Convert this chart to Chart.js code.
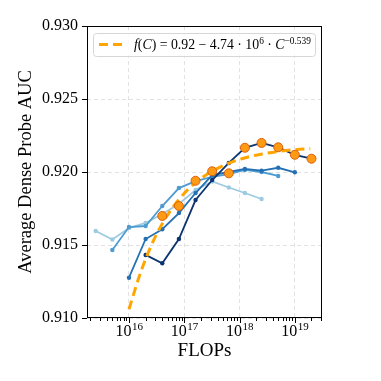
<!DOCTYPE html>
<html>
<head>
<meta charset="utf-8">
<script src="https://cdn.jsdelivr.net/npm/chart.js@4.4.1/dist/chart.umd.min.js"></script>
<style>
  body { margin: 0; background: #fff; }
  #wrap { width: 381px; height: 381px; }
</style>
</head>
<body>
<div id="wrap"><canvas id="chart" width="381" height="381"></canvas></div>
<script>
// compute (FLOPs) vs average dense probe AUC, one run per model size
const flops1 = [2.5e15, 5e15, 1e16, 2e16, 4e16, 8e16, 1.6e17, 3.2e17, 6.4e17, 1.25e18, 2.5e18];
const auc1   = [0.91596, 0.91538, 0.91616, 0.91651, 0.91712, 0.91781, 0.91877, 0.91935, 0.91894, 0.91856, 0.91815];
const flops2 = [5e15, 1e16, 2e16, 4e16, 8e16, 1.6e17, 3.2e17, 6.4e17, 1.25e18, 2.5e18, 5e18];
const auc2   = [0.91466, 0.91623, 0.91630, 0.91767, 0.91890, 0.91938, 0.91966, 0.91986, 0.92014, 0.92000, 0.91973];
const flops3 = [1e16, 2e16, 4e16, 8e16, 1.6e17, 3.2e17, 6.4e17, 1.25e18, 2.5e18, 5e18, 1e19];
const auc3   = [0.91276, 0.91541, 0.91608, 0.91719, 0.91856, 0.91979, 0.92000, 0.92021, 0.92009, 0.92029, 0.91998];
const flops4 = [2e16, 4e16, 8e16, 1.6e17, 3.2e17, 6.4e17, 1.25e18, 2.5e18, 5e18, 1e19, 2e19];
const auc4   = [0.91432, 0.91375, 0.91541, 0.91808, 0.91945, 0.92062, 0.92166, 0.92199, 0.92169, 0.92118, 0.92091];

// compute-optimal points
const optFlops = [4e16, 8e16, 1.6e17, 3.2e17, 6.4e17, 1.25e18, 2.5e18, 5e18, 1e19, 2e19];
const optAuc   = [0.91699, 0.91767, 0.91940, 0.92005, 0.91991, 0.92166, 0.92199, 0.92169, 0.92118, 0.92091];

// fitted power law
const fitFlops = [1e16, 1.5e16, 2e16, 3e16, 4e16, 6e16, 8e16, 1.2e17, 1.6e17, 2.5e17, 3.2e17, 6.4e17, 1.28e18, 2.56e18, 5.12e18, 1.02e19, 1.9e19];
const fitAuc   = [0.9106, 0.91274, 0.91404, 0.91557, 0.91646, 0.91751, 0.91812, 0.91885, 0.91927, 0.91981, 0.92006, 0.92060, 0.92098, 0.92123, 0.92141, 0.92153, 0.92160];

const xMajorTicks = [1e16, 1e17, 1e18, 1e19];
const yTicks = [0.910, 0.915, 0.920, 0.925, 0.930];

const SERIF = "'Liberation Serif', 'DejaVu Serif', serif";
const blues = ['#9ecae1', '#4e9bd0', '#2470b5', '#0c3470'];
const orange = '#ffa500';

function pts(xs, ys) {
  return xs.map((x, i) => ({ x: x, y: ys[i] }));
}

function runLine(xs, ys, color, order) {
  return {
    data: pts(xs, ys),
    borderColor: color,
    backgroundColor: color,
    borderWidth: 1.8,
    pointRadius: 2.2,
    pointBorderWidth: 0,
    pointHoverRadius: 0,
    tension: 0,
    order: order
  };
}

const extras = {
  id: 'extras',
  afterDraw(chart) {
    const ctx = chart.ctx;
    const a = chart.chartArea;
    const x = chart.scales.x;
    ctx.save();
    ctx.setLineDash([]);

    // frame
    ctx.strokeStyle = '#000';
    ctx.lineWidth = 1;
    ctx.strokeRect(Math.round(a.left) + 0.5, Math.round(a.top) + 0.5,
                   Math.round(a.right - a.left) - 1, Math.round(a.bottom - a.top) - 1);

    // log ticks, major and minor
    for (let e = 15; e <= 19; e++) {
      for (let m = 1; m <= 9; m++) {
        const v = m * Math.pow(10, e);
        if (v < x.min || v > x.max) continue;
        const px = Math.round(x.getPixelForValue(v)) + 0.5;
        ctx.beginPath();
        ctx.moveTo(px, a.bottom);
        ctx.lineTo(px, a.bottom + (m === 1 ? 5 : 3));
        ctx.stroke();
      }
    }

    // 10^n tick labels
    ctx.fillStyle = '#000';
    ctx.textBaseline = 'alphabetic';
    ctx.textAlign = 'left';
    xMajorTicks.forEach(v => {
      const px = x.getPixelForValue(v);
      const exp = String(Math.round(Math.log10(v)));
      ctx.font = '16px ' + SERIF;
      const w1 = ctx.measureText('10').width;
      ctx.font = '11px ' + SERIF;
      const w2 = ctx.measureText(exp).width;
      const left = px - (w1 + w2) / 2;
      ctx.font = '16px ' + SERIF;
      ctx.fillText('10', left, a.bottom + 18);
      ctx.font = '11px ' + SERIF;
      ctx.fillText(exp, left + w1 + 0.5, a.bottom + 12);
    });

    // legend box
    const bx = 93, by = 33, bw = 222, bh = 23;
    ctx.beginPath();
    ctx.roundRect(bx + 0.5, by + 0.5, bw, bh, 3);
    ctx.fillStyle = 'rgba(255,255,255,0.8)';
    ctx.fill();
    ctx.strokeStyle = '#d6d6d6';
    ctx.lineWidth = 1;
    ctx.stroke();

    ctx.beginPath();
    ctx.setLineDash([9, 5]);
    ctx.strokeStyle = orange;
    ctx.lineWidth = 3;
    ctx.moveTo(99, by + 11.5);
    ctx.lineTo(124, by + 11.5);
    ctx.stroke();
    ctx.setLineDash([]);

    const segs = [
      { t: 'f', it: true }, { t: '(' }, { t: 'C', it: true }, { t: ') = 0.92 \u2212 4.74 \u00b7 10' },
      { t: '6', sup: true }, { t: ' \u00b7 ' }, { t: 'C', it: true }, { t: '\u22120.539', sup: true }
    ];
    const fontFor = (s, size) => (s.it ? 'italic ' : '') + (s.sup ? size * 0.68 : size) + 'px ' + SERIF;
    let size = 14;
    let total = 0;
    segs.forEach(s => { ctx.font = fontFor(s, size); total += ctx.measureText(s.t).width; });
    size = size * 177 / total;
    let cx = 134;
    ctx.fillStyle = '#000';
    segs.forEach(s => {
      ctx.font = fontFor(s, size);
      ctx.fillText(s.t, cx, by + (s.sup ? 11 : 16));
      cx += ctx.measureText(s.t).width;
    });

    ctx.restore();
  }
};

new Chart(document.getElementById('chart'), {
  type: 'line',
  data: {
    datasets: [
      runLine(flops1, auc1, blues[0], 6),
      runLine(flops2, auc2, blues[1], 5),
      runLine(flops3, auc3, blues[2], 4),
      runLine(flops4, auc4, blues[3], 3),
      {
        data: pts(fitFlops, fitAuc),
        borderColor: orange,
        borderWidth: 3,
        borderDash: [9, 5],
        pointRadius: 0,
        cubicInterpolationMode: 'monotone',
        order: 2
      },
      {
        data: pts(optFlops, optAuc),
        showLine: false,
        pointRadius: 4.5,
        pointBackgroundColor: '#ff9a14',
        pointBorderColor: '#d9610c',
        pointBorderWidth: 1,
        order: 1
      }
    ]
  },
  options: {
    responsive: false,
    animation: false,
    events: [],
    layout: { padding: { top: 26, right: 59, bottom: 0, left: 0 } },
    plugins: { legend: { display: false }, tooltip: { enabled: false } },
    scales: {
      x: {
        type: 'logarithmic',
        min: 1.74e15,
        max: 3.1e19,
        afterBuildTicks: s => { s.ticks = xMajorTicks.map(v => ({ value: v, major: true })); },
        afterFit: s => { s.height = 63; },
        ticks: { display: false },
        grid: { color: '#e2e2e2', drawTicks: false },
        border: { display: false, dash: [4, 3] },
        title: {
          display: true, text: 'FLOPs', color: '#000',
          font: { family: SERIF, size: 19 },
          padding: { top: 0, bottom: 19 }
        }
      },
      y: {
        min: 0.910,
        max: 0.930,
        afterBuildTicks: s => { s.ticks = yTicks.map(v => ({ value: v })); },
        afterFit: s => { s.width = 87; },
        ticks: {
          callback: v => v.toFixed(3),
          color: '#000',
          font: { family: SERIF, size: 16 },
          padding: 4
        },
        grid: { color: '#e2e2e2', tickColor: '#000', tickLength: 5, tickBorderDash: [] },
        border: { display: false, dash: [4, 3] },
        title: {
          display: true, text: 'Average Dense Probe AUC', color: '#000',
          font: { family: SERIF, size: 18.5 },
          padding: { top: 15, bottom: 0 }
        }
      }
    }
  },
  plugins: [extras]
});
</script>
</body>
</html>
